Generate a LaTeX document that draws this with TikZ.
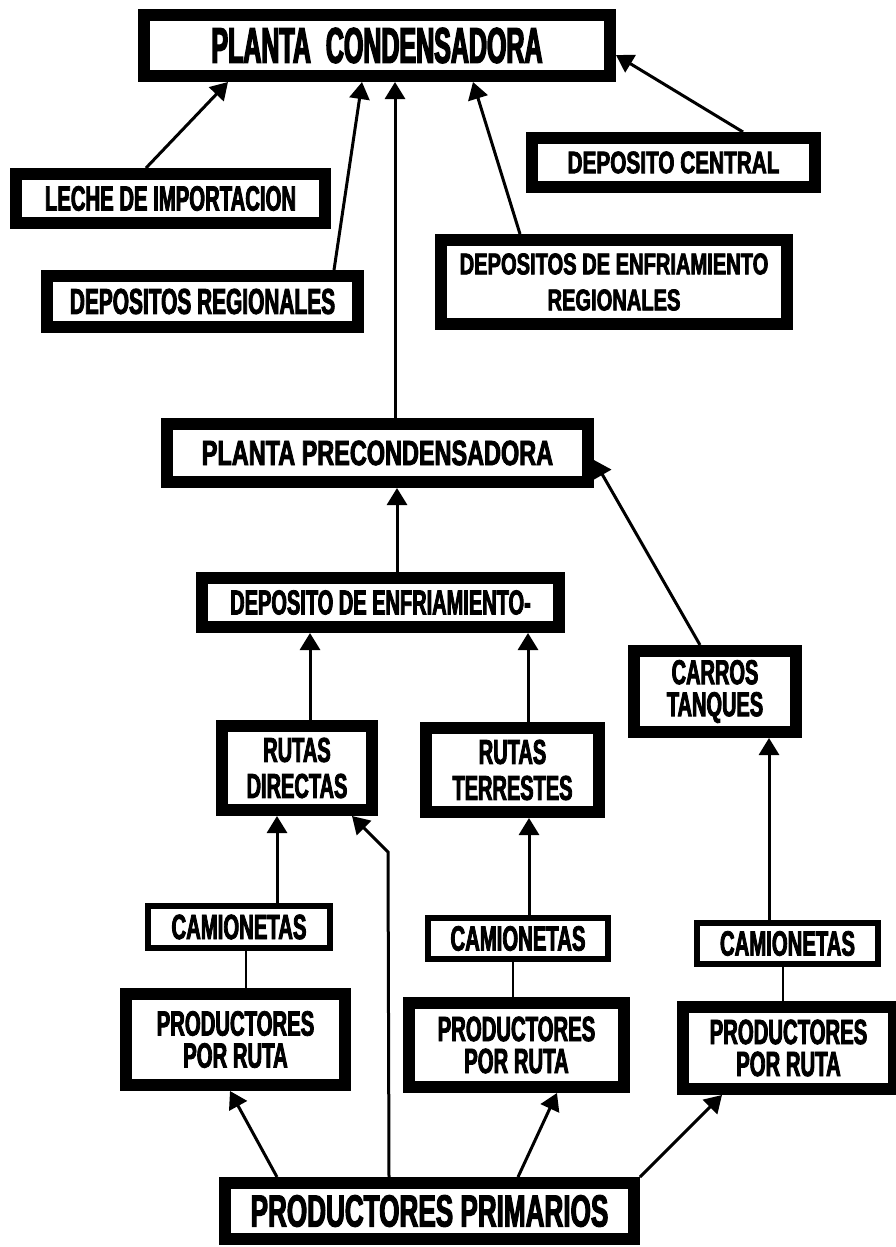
\documentclass[tikz,border=0pt]{standalone}
\usepackage{fontspec}
\setmainfont{Liberation Sans}
\newfontfamily\fA{Liberation Sans}[FakeStretch=0.58,FakeBold=2.4]
\newfontfamily\fB{Liberation Sans}[FakeStretch=0.5,FakeBold=2.8]
\newfontfamily\fC{Liberation Sans}[FakeStretch=0.67,FakeBold=2.4]
\usetikzlibrary{arrows.meta}
\tikzset{
  box/.style={draw=black, line width=12pt, outer sep=6pt, fill=white, inner sep=0pt, align=center},
  thinbox/.style={box, line width=6pt, outer sep=3pt},
  arr/.style={line width=3pt, -{Triangle[length=17pt,width=20pt]}},
  lnk/.style={line width=2.5pt},
}
\begin{document}
\begin{tikzpicture}[x=1pt,y=-1pt]
\clip (0,0) rectangle (896,1247);
\fill[white] (0,0) rectangle (896,1247);
% nodes
\node[box, minimum width=466pt, minimum height=61pt, font=\fB\bfseries\fontsize{50}{52}\selectfont] (cond) at (377,45.5) {PLANTA\hspace{0.3em}CONDENSADORA};
\node[box, minimum width=309pt, minimum height=49pt, font=\fA\bfseries\fontsize{35}{37}\selectfont] (leche) at (170.5,198.5) {LECHE DE IMPORTACION};
\node[box, minimum width=311pt, minimum height=51pt, font=\fA\bfseries\fontsize{36}{38}\selectfont] (dreg) at (202.5,301.5) {DEPOSITOS REGIONALES};
\node[box, minimum width=283pt, minimum height=49pt, font=\fC\bfseries\fontsize{31}{33}\selectfont] (dcen) at (673.5,162.5) {DEPOSITO CENTRAL};
\node[box, minimum width=346pt, minimum height=84pt, font=\fC\bfseries\fontsize{30}{36}\selectfont] (denfreg) at (614,282) {DEPOSITOS DE ENFRIAMIENTO\\REGIONALES};
\node[box, minimum width=421pt, minimum height=58pt, font=\fC\bfseries\fontsize{35}{37}\selectfont] (ppc) at (377.5,453) {PLANTA PRECONDENSADORA};
\node[box, minimum width=357pt, minimum height=49pt, font=\fA\bfseries\fontsize{34.5}{36}\selectfont] (depenf) at (380.5,602.5) {DEPOSITO DE ENFRIAMIENTO-};
\node[box, minimum width=162pt, minimum height=81pt, font=\fA\bfseries\fontsize{34.5}{32}\selectfont] (carros) at (715,691.5) {CARROS\\TANQUES};
\node[box, minimum width=150pt, minimum height=84pt, font=\fA\bfseries\fontsize{34.5}{36}\selectfont] (rd) at (297,768) {RUTAS\\DIRECTAS};
\node[box, minimum width=173pt, minimum height=84pt, font=\fA\bfseries\fontsize{34.5}{36}\selectfont] (rt) at (512.5,770) {RUTAS\\TERRESTES};
\node[thinbox, minimum width=182pt, minimum height=42pt, font=\fA\bfseries\fontsize{35}{37}\selectfont] (cam1) at (239,927) {CAMIONETAS};
\node[thinbox, minimum width=180pt, minimum height=41pt, font=\fA\bfseries\fontsize{35}{37}\selectfont] (cam2) at (518,938.5) {CAMIONETAS};
\node[thinbox, minimum width=181pt, minimum height=41pt, font=\fA\bfseries\fontsize{35}{37}\selectfont] (cam3) at (787.5,943.5) {CAMIONETAS};
\node[box, minimum width=219pt, minimum height=91pt, font=\fA\bfseries\fontsize{35}{32}\selectfont] (ppr1) at (235.5,1039.5) {PRODUCTORES\\POR RUTA};
\node[box, minimum width=215pt, minimum height=84pt, font=\fA\bfseries\fontsize{35}{32}\selectfont] (ppr2) at (516.5,1045) {PRODUCTORES\\POR RUTA};
\node[box, minimum width=211pt, minimum height=82pt, font=\fA\bfseries\fontsize{35}{32}\selectfont] (ppr3) at (788.5,1048) {PRODUCTORES\\POR RUTA};
\node[box, minimum width=409pt, minimum height=56pt, font=\fA\bfseries\fontsize{45}{47}\selectfont] (pp) at (429.5,1211) {PRODUCTORES PRIMARIOS};
\coordinate (bend) at (388,852);
% connectors
\draw[arr] (leche.north -| 146,0) -- (cond.south -| 228,0);
\draw[arr] (dreg.north -| 334,0) -- (cond.south -| 362,0);
\draw[arr] (ppc.north -| 395,0) -- (cond.south -| 395,0);
\draw[arr] (denfreg.north -| 520,0) -- (cond.south -| 473,0);
\draw[arr] (dcen.north -| 743,0) -- (cond.east |- 0,55);
\draw[arr] (depenf.north -| 397,0) -- (ppc.south -| 397,0);
\draw[arr] (carros.north -| 700,0) -- (ppc.east |- 0,460);
\draw[arr] (rd.north -| 310,0) -- (depenf.south -| 310,0);
\draw[arr] (rt.north -| 528,0) -- (depenf.south -| 528,0);
\draw[arr] (cam1.north -| 277,0) -- (rd.south -| 277,0);
\draw[arr] (cam2.north -| 529,0) -- (rt.south -| 529,0);
\draw[arr] (cam3.north -| 769,0) -- (carros.south -| 769,0);
\draw[lnk] (ppr1.north -| 246,0) -- (cam1.south -| 246,0);
\draw[lnk] (ppr2.north -| 513,0) -- (cam2.south -| 513,0);
\draw[lnk] (ppr3.north -| 783,0) -- (cam3.south -| 783,0);
\draw[arr] (pp.north -| 277,0) -- (ppr1.south -| 230,0);
\draw[arr] (pp.north -| 518,0) -- (ppr2.south -| 557,0);
\draw[arr] (pp.north east) -- (ppr3.south -| 722,0);
\draw[arr] (pp.north -| 389,0) -- (bend) -- (rd.south -| 352,0);
\end{tikzpicture}
\end{document}
